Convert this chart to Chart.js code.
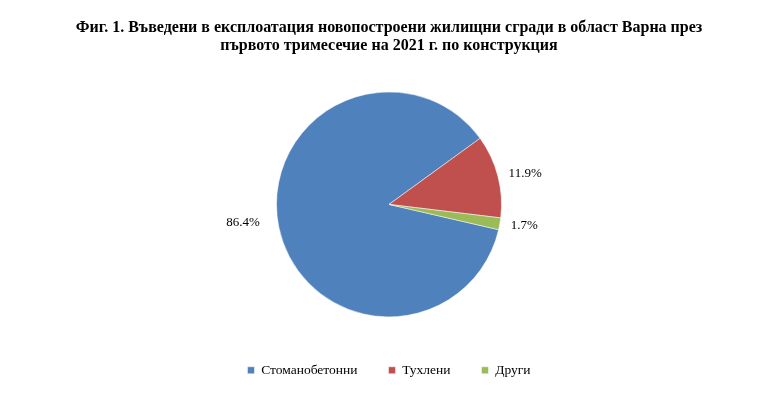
<!DOCTYPE html>
<html>
<head>
<meta charset="utf-8">
<script src="https://cdn.jsdelivr.net/npm/chart.js@4.4.0/dist/chart.umd.min.js"></script>
<style>
    html, body { margin: 0; padding: 0; background: #fff; }
    #wrap { width: 776px; height: 401px; }
</style>
</head>
<body>
<div id="wrap"><canvas id="grafica" width="776" height="401"></canvas></div>
<script>
const categorias = ['Стоманобетонни', 'Тухлени', 'Други'];
const porcentajes = [86.4, 11.9, 1.7];
const colores = ['#4F81BD', '#C0504D', '#9BBB59'];
const tituloLineas = [
    'Фиг. 1. Въведени в експлоатация новопостроени жилищни сгради в област Варна през',
    'първото тримесечие на 2021 г. по конструкция'
];

const fuente = "'Liberation Serif', 'Times New Roman', serif";

// etiquetas de porcentaje fuera de cada sector
const etiquetasPlugin = {
    id: 'etiquetas',
    afterDatasetsDraw(chart) {
        const ctx = chart.ctx;
        const meta = chart.getDatasetMeta(0);
        ctx.save();
        ctx.font = '13px ' + fuente;
        ctx.fillStyle = '#000';
        ctx.textBaseline = 'middle';
        meta.data.forEach((arc, i) => {
            const texto = porcentajes[i].toFixed(1) + '%';
            const medio = (arc.startAngle + arc.endAngle) / 2;
            const dx = Math.cos(medio);
            const dy = Math.sin(medio);
            const dist = arc.outerRadius + 9;
            ctx.textAlign = dx >= 0 ? 'left' : 'right';
            const extra = dx >= 0 ? 2 : -10;
            ctx.fillText(texto, arc.x + dx * dist + extra, arc.y + dy * dist - (dx < 0 ? 6 : 0));
        });
        ctx.restore();
    }
};

const ctx = document.getElementById('grafica').getContext('2d');
new Chart(ctx, {
    type: 'pie',
    data: {
        labels: categorias,
        datasets: [{
            data: porcentajes,
            backgroundColor: colores,
            borderColor: '#ffffff',
            borderWidth: 0.5
        }]
    },
    options: {
        responsive: false,
        animation: false,
        rotation: 103,
        radius: 112.5,
        layout: { padding: { left: 2, right: 0, top: 0, bottom: 14 } },
        plugins: {
            title: {
                display: true,
                text: tituloLineas,
                color: '#000',
                font: { family: fuente, size: 16, weight: 'bold', lineHeight: 1.15 },
                padding: { top: 18.5, bottom: 21 }
            },
            legend: {
                position: 'bottom',
                labels: {
                    color: '#000',
                    font: { family: fuente, size: 13.5 },
                    boxWidth: 7,
                    boxHeight: 7,
                    padding: 31
                }
            },
            tooltip: { enabled: false }
        }
    },
    plugins: [etiquetasPlugin]
});
</script>
</body>
</html>
